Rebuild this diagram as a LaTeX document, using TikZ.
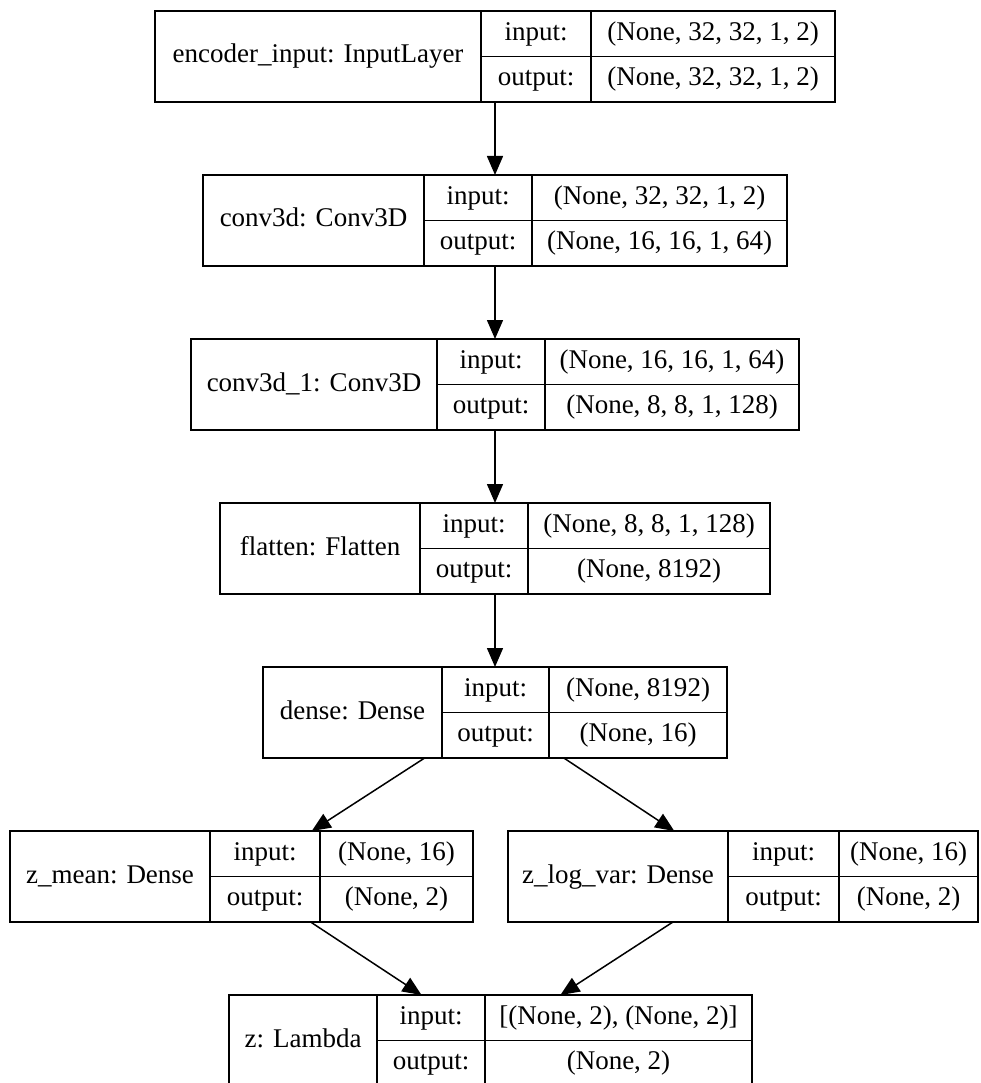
\documentclass[tikz,border=0pt]{standalone}
\usepackage{fontspec}
\setmainfont{Liberation Serif}
\usetikzlibrary{arrows.meta}
\tikzset{
  cell/.style={draw, line width=1.5pt, inner sep=0pt, outer sep=0pt,
    font=\fontsize{27}{32}\selectfont, text height=19pt, text depth=6pt, align=center},
  whole/.style={draw, line width=1.5pt, inner sep=0pt, outer sep=0pt},
  conn/.style={line width=1.5pt, -{Triangle[length=19pt,width=16pt]}}
}
% #1 name, #2 x0, #3 x1, #4 x2, #5 x3, #6 ytop, #7 label, #8 input value, #9 output value
\newcommand{\reclayer}[9]{%
  \node[whole, minimum width={(#5-#2)*1pt}, minimum height=91pt] (#1) at ({(#2+#5)/2},{#6+45.5}) {};
  \node[cell, minimum width={(#3-#2)*1pt}, minimum height=91pt] (#1-l) at ({(#2+#3)/2},{#6+45.5}) {#7};
  \node[cell, minimum width={(#4-#3)*1pt}, minimum height=45.5pt] (#1-ik) at ({(#3+#4)/2},{#6+22.75}) {input:};
  \node[cell, minimum width={(#4-#3)*1pt}, minimum height=45.5pt] (#1-ok) at ({(#3+#4)/2},{#6+68.25}) {output:};
  \node[cell, minimum width={(#5-#4)*1pt}, minimum height=45.5pt] (#1-iv) at ({(#4+#5)/2},{#6+22.75}) {#8};
  \node[cell, minimum width={(#5-#4)*1pt}, minimum height=45.5pt] (#1-ov) at ({(#4+#5)/2},{#6+68.25}) {#9};
}
\begin{document}
\begin{tikzpicture}[x=1pt, y=-1pt]
\useasboundingbox (0,0) rectangle (980,1083);
\reclayer{enc}{155}{481}{591}{835}{11}{encoder\_input: InputLayer}{(None, 32, 32, 1, 2)}{(None, 32, 32, 1, 2)}
\reclayer{conv}{203}{424}{532}{787}{175}{conv3d: Conv3D}{(None, 32, 32, 1, 2)}{(None, 16, 16, 1, 64)}
\reclayer{convb}{191}{437}{545}{799}{339}{conv3d\_1: Conv3D}{(None, 16, 16, 1, 64)}{(None, 8, 8, 1, 128)}
\reclayer{flat}{220}{420}{528}{770}{503}{flatten: Flatten}{(None, 8, 8, 1, 128)}{(None, 8192)}
\reclayer{dense}{263}{442}{549}{727}{667}{dense: Dense}{(None, 8192)}{(None, 16)}
\reclayer{zmean}{10}{210}{320}{473}{831}{z\_mean: Dense}{(None, 16)}{(None, 2)}
\reclayer{zlog}{508}{728}{839}{978}{831}{z\_log\_var: Dense}{(None, 16)}{(None, 2)}
\reclayer{z}{229}{377}{485}{752}{995}{z: Lambda}{[(None, 2), (None, 2)]}{(None, 2)}
\draw[conn] (enc) -- (conv);
\draw[conn] (conv) -- (convb);
\draw[conn] (convb) -- (flat);
\draw[conn] (flat) -- (dense);
\draw[conn] (dense) -- (zmean);
\draw[conn] (dense) -- (zlog);
\draw[conn] (zmean) -- (z);
\draw[conn] (zlog) -- (z);
\end{tikzpicture}
\end{document}
